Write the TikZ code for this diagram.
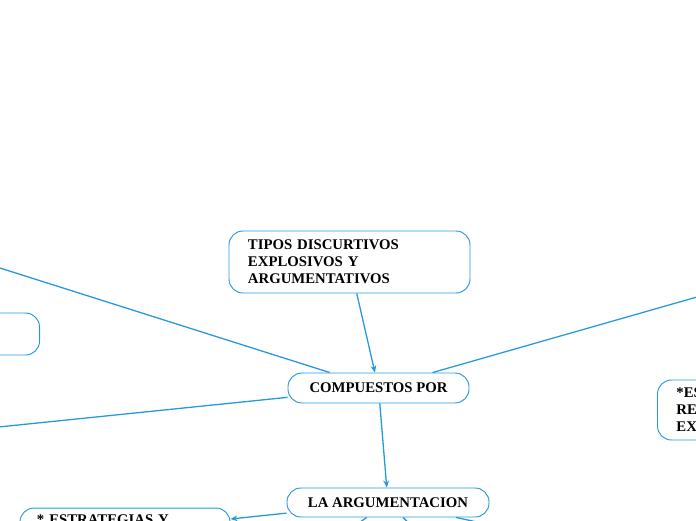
\documentclass[tikz,border=0pt]{standalone}
\usepackage{fontspec}
\setmainfont{Liberation Serif}
\usetikzlibrary{arrows.meta}
\definecolor{mapblue}{RGB}{37,152,226}
\begin{document}
\begin{tikzpicture}[
  x=0.03cm, y=-0.03cm,
  topic/.style={draw=mapblue, line width=0.8pt, rounded corners=0.42cm,
    font=\fontsize{12.6}{14.5}\selectfont\bfseries, inner sep=0pt},
  link/.style={draw=mapblue, line width=1.1pt},
  arrow/.style={link, -{Stealth[length=6pt,width=5pt]}}
]
  \useasboundingbox (0,0) rectangle (696,520);
  \clip (0,0) rectangle (696,520);

  % Central nodes
  \node[topic, minimum width=7.23cm, minimum height=1.86cm, text width=6.09cm, align=left] (tipos) at (349.5,262)
    {TIPOS DISCURTIVOS\\EXPLOSIVOS Y\\ARGUMENTATIVOS};
  \node[topic, minimum width=5.43cm, minimum height=0.9cm] (comp) at (378.5,388) {COMPUESTOS POR};
  \node[topic, minimum width=6.06cm, minimum height=0.87cm] (arg) at (388,502.5) {LA ARGUMENTACION};

  % Side nodes, partly outside the page
  \node[topic, minimum width=4.5cm, minimum height=1.26cm, anchor=east] (side) at (40,334) {};
  \node[topic, minimum width=6cm, minimum height=1.8cm, text width=4.86cm, align=left, anchor=west] (expl) at (657,410)
    {*ES\\RE\\EX};
  \node[topic, minimum width=6.3cm, text width=5.28cm, align=left, inner ysep=2pt,
    text height=12pt, text depth=21.5pt] (strat) at (125,530) {* ESTRATEGIAS Y};

  % Free ends of connectors leaving the page
  \coordinate (ul) at (-60,249);
  \coordinate (ur) at (760,279);
  \coordinate (ll) at (-60,433);
  \coordinate (d1) at (316,553);
  \coordinate (d2) at (440,554);
  \coordinate (d3) at (568,542);

  % Connectors
  \draw[arrow] (tipos) -- (comp);
  \draw[arrow] (comp) -- (arg);
  \draw[link] (comp) -- (ul);
  \draw[link] (comp) -- (ur);
  \draw[link] (comp) -- (ll);
  \draw[arrow] (arg) -- (strat);
  \draw[link] (arg) -- (d1);
  \draw[link] (arg) -- (d2);
  \draw[link] (arg) -- (d3);

\end{tikzpicture}
\end{document}
